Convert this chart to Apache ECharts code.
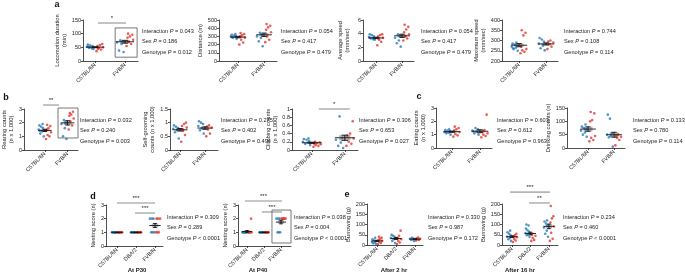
<!DOCTYPE html>
<html>
<head>
<meta charset="utf-8">
<script src="https://cdn.jsdelivr.net/npm/echarts@6/dist/echarts.min.js"></script>
<style>
  html, body { margin: 0; padding: 0; background: #fff; }
  #chart { width: 685px; height: 277px; }
</style>
</head>
<body>
<div id="chart"></div>
<script>
// categories
const strains2 = ['C57BL/6N', 'FVB/N']
const strains3 = ['C57BL/6N', 'DBA/2', 'FVB/N']

// a: locomotion (one inner array per strain)
const locoBlue = [[44, 48, 50, 52, 55, 57, 60, 46, 53], [33, 38, 62, 68, 72, 76]]
const locoRed = [[36, 42, 47, 50, 55, 58, 62, 45], [55, 62, 70, 78, 85, 90, 96, 100]]
const distBlue = [[270, 285, 295, 300, 305, 310, 320, 330, 290], [180, 240, 280, 300, 320, 345]]
const distRed = [[200, 225, 260, 285, 300, 315, 330, 340], [230, 260, 300, 350, 380, 410, 430, 450]]
const speedBlue = [[3.1, 3.3, 3.4, 3.5, 3.6, 3.8, 3.9, 3.2, 3.4], [2.1, 2.6, 3.0, 3.4, 3.7, 3.9]]
const speedRed = [[2.3, 2.8, 3.1, 3.4, 3.6, 3.8, 3.9, 3.3], [3.0, 3.3, 3.6, 3.9, 4.2, 4.6, 5.0, 5.3]]
const maxBlue = [[250, 258, 265, 270, 275, 280, 285, 290, 262], [252, 262, 275, 285, 295, 305, 312]]
const maxRed = [[238, 245, 252, 258, 270, 325, 338, 350], [258, 270, 282, 290, 295, 300]]

// b: rearing, grooming, climbing (n x 1,000)
const rearBlue = [[1.0, 1.2, 1.35, 1.5, 1.6, 1.7, 1.8, 1.9, 1.4], [0.8, 1.0, 1.6, 1.9, 2.0, 2.2]]
const rearRed = [[0.8, 1.0, 1.1, 1.3, 1.5, 1.6, 1.75, 1.85], [1.5, 1.8, 2.1, 2.3, 2.5, 2.6, 2.8, 2.7]]
const groomBlue = [[0.42, 0.65, 0.72, 0.78, 0.8, 0.85, 0.9, 0.75], [0.6, 0.72, 0.8, 0.88, 0.95, 1.0, 1.05]]
const groomRed = [[0.3, 0.55, 0.7, 0.82, 0.88, 0.95, 1.0, 0.76], [0.5, 0.6, 0.75, 0.82, 0.86, 0.9]]
const climbBlue = [[0.12, 0.15, 0.18, 0.2, 0.22, 0.25, 0.27, 0.28], [0.05, 0.1, 0.18, 0.25, 0.3, 0.82]]
const climbRed = [[0.08, 0.1, 0.12, 0.14, 0.15, 0.17, 0.19, 0.2], [0.1, 0.15, 0.2, 0.28, 0.35, 0.4, 0.7]]

// c: eating, drinking
const eatBlue = [[1.0, 1.1, 1.15, 1.2, 1.25, 1.3, 1.35, 1.4, 1.2], [1.0, 1.1, 1.2, 1.3, 1.4, 1.5, 1.25]]
const eatRed = [[0.85, 0.95, 1.05, 1.2, 1.3, 1.4, 1.5, 1.6], [0.8, 0.9, 1.0, 1.1, 1.2, 1.35, 2.5]]
const drinkBlue = [[42, 50, 58, 65, 70, 75, 80, 88], [5, 40, 45, 50, 55, 110, 125]]
const drinkRed = [[25, 30, 38, 45, 100, 105, 130, 135], [10, 30, 38, 42, 46, 50]]

// d: nesting score
const nest30Blue = [[1, 1, 1, 1, 1, 1, 1, 1], [1, 1, 1, 1, 1, 1, 1], [1, 1, 1, 2, 2, 2]]
const nest30Red = [[1, 1, 1, 1, 1, 1, 1, 1], [1, 1, 1, 1, 1, 1, 1], [1, 1, 1, 2, 2, 2]]
const nest40Blue = [[1, 1, 1, 1, 1, 1, 1, 1], [1, 1, 1, 1, 1, 1, 1], [1, 1, 1, 2, 2, 2]]
const nest40Red = [[1, 1, 1, 1, 1, 1, 2], [1, 1, 1, 1, 1, 1, 1], [2, 2, 2, 2, 2, 2]]

// e: burrowing (g)
const burrow2Blue = [[5, 8, 12, 15, 18, 22, 28, 35], [10, 20, 28, 35, 40, 45, 50], [20, 25, 28, 30, 32, 35]]
const burrow2Red = [[5, 10, 15, 20, 25, 30, 35, 40], [5, 12, 20, 28, 35, 45, 70], [22, 25, 28, 30, 33, 36]]
const burrow16Blue = [[20, 28, 35, 40, 48, 55, 62, 70], [40, 48, 52, 58, 65, 72, 80, 95, 100], [40, 55, 70, 85, 95, 105, 115, 120]]
const burrow16Red = [[15, 22, 30, 38, 42, 48, 55], [20, 25, 35, 45, 50], [20, 30, 60, 90, 110, 130, 140, 190]]

// two-way ANOVA p values: interaction, sex, genotype
const locoStats = ['= 0.043', '= 0.186', '= 0.012']
const distStats = ['= 0.054', '= 0.417', '= 0.479']
const speedStats = ['= 0.054', '= 0.417', '= 0.479']
const maxStats = ['= 0.744', '= 0.108', '= 0.114']
const rearStats = ['= 0.032', '= 0.240', '= 0.003']
const groomStats = ['= 0.275', '= 0.402', '= 0.494']
const climbStats = ['= 0.306', '= 0.653', '= 0.027']
const eatStats = ['= 0.603', '= 0.612', '= 0.963']
const drinkStats = ['= 0.133', '= 0.780', '= 0.114']
const nest30Stats = ['= 0.309', '= 0.289', '< 0.0001']
const nest40Stats = ['= 0.038', '= 0.004', '< 0.0001']
const burrow2Stats = ['= 0.330', '= 0.987', '= 0.172']
const burrow16Stats = ['= 0.234', '= 0.460', '< 0.0001']

const FONT = '"Liberation Sans", Arial, sans-serif'
const BLUE = '#2b7bbb'
const RED = '#e3362b'
const jit = [0.05, 0.2, 0.12, 0.27, 0.08, 0.16, 0.24, 0.1, 0.22]

// grid: [left, top, width, height]; x: value range so categories sit at 0,1,2
const panels = [
  { grid: [83, 20, 55, 41], x: [-0.4, 1.43], cats: strains2, y: [0, 150, 50], name: 'Locomotion duration\n(min)', gap: 14,
    blue: locoBlue, red: locoRed, stats: locoStats, sx: 142, sy: 31, sig: [[0.1, 1.03, 139, '*']], box: [0.67, 1.4, 14, 121] },
  { grid: [219, 20, 58, 41], x: [-0.73, 1.5], cats: strains2, y: [0, 500, 100], name: 'Distance (m)', gap: 13,
    blue: distBlue, red: distRed, stats: distStats, sx: 281, sy: 31 },
  { grid: [363, 20, 51, 41], x: [-0.5, 1.46], cats: strains2, y: [0, 6, 2], name: 'Average speed\n(mm/sec)', gap: 12,
    blue: speedBlue, red: speedRed, stats: speedStats, sx: 421, sy: 31 },
  { grid: [502, 20, 56, 41], x: [-0.63, 1.44], cats: strains2, y: [200, 400, 50], name: 'Maximum speed\n(mm/sec)', gap: 14,
    blue: maxBlue, red: maxRed, stats: maxStats, sx: 564, sy: 31 },
  { grid: [21, 109, 57, 41], x: [-0.92, 1.46], cats: strains2, y: [0, 3, 1], name: 'Rearing counts\n(n x 1,000)', gap: 8,
    blue: rearBlue, red: rearRed, stats: rearStats, sx: 80, sy: 120, sig: [[-0.08, 0.63, 3.29, '**']], box: [0.58, 1.46, 0.88, 3.07] },
  { grid: [170, 109, 48, 41], x: [-0.4, 1.52], cats: strains2, y: [0, 1.5, 0.5], name: 'Self-grooming\ncounts (n x 1,000)', gap: 14,
    blue: groomBlue, red: groomRed, stats: groomStats, sx: 221, sy: 120 },
  { grid: [292, 109, 66, 41], x: [-0.6, 1.4], cats: strains2, y: [0, 1, 0.2], name: 'Climbing counts\n(n x 1,000)', gap: 13,
    blue: climbBlue, red: climbRed, stats: climbStats, sx: 359, sy: 120, sig: [[0.21, 1.15, 1.0, '*']] },
  { grid: [436, 108, 56, 40], x: [-0.57, 1.43], cats: strains2, y: [0, 3, 1], name: 'Eating counts\n(n x 1,000)', gap: 8,
    blue: eatBlue, red: eatRed, stats: eatStats, sx: 497, sy: 120 },
  { grid: [567, 108, 58, 40], x: [-0.81, 1.42], cats: strains2, y: [0, 150, 50], name: 'Drinking counts (n)', gap: 13,
    blue: drinkBlue, red: drinkRed, stats: drinkStats, sx: 633, sy: 120 },
  { grid: [106, 205, 57, 41], x: [-0.58, 2.42], cats: strains3, y: [0, 3, 1], name: 'Nesting score (n)', gap: 7,
    blue: nest30Blue, red: nest30Red, stats: nest30Stats, sx: 167, sy: 217, title: 'At P30', tx: 137,
    sig: [[0, 2, 3.15, '***'], [0.95, 2, 2.41, '***']] },
  { grid: [238, 205, 53, 41], x: [-0.53, 2.59], cats: strains3, y: [0, 3, 1], name: 'Nesting score (n)', gap: 7,
    blue: nest40Blue, red: nest40Red, stats: nest40Stats, sx: 294, sy: 217, title: 'At P40', tx: 258,
    sig: [[-0.12, 2.06, 3.29, '***'], [0.88, 2.06, 2.49, '***']], box: [1.47, 2.59, 0.22, 2.63] },
  { grid: [367, 204, 56, 41], x: [-0.53, 2.42], cats: strains3, y: [0, 200, 50], name: 'Burrowing (g)', gap: 11,
    blue: burrow2Blue, red: burrow2Red, stats: burrow2Stats, sx: 428, sy: 217, title: 'After 2 hr', tx: 394 },
  { grid: [502, 204, 56, 41], x: [-0.54, 2.49], cats: strains3, y: [0, 200, 50], name: 'Burrowing (g)', gap: 11,
    blue: burrow16Blue, red: burrow16Red, stats: burrow16Stats, sx: 563, sy: 217, title: 'After 16 hr', tx: 520,
    sig: [[-0.1, 2.05, 258, '***'], [0.92, 2.05, 205, '**']] }
]

const panelLetters = [['a', 57, 5], ['b', 6, 98], ['c', 419, 97], ['d', 93, 197], ['e', 347, 195]]

function meanSem(vals) {
  const n = vals.length
  const m = vals.reduce((s, v) => s + v, 0) / n
  const sd = Math.sqrt(vals.reduce((s, v) => s + (v - m) * (v - m), 0) / (n - 1))
  return [m, sd / Math.sqrt(n)]
}

const grid = []
const xAxis = []
const yAxis = []
const series = []
const graphic = []
const axisColor = '#222'

panels.forEach((p, i) => {
  const idx = p.cats.map((c, k) => k)
  grid.push({ left: p.grid[0], top: p.grid[1], width: p.grid[2], height: p.grid[3] })
  xAxis.push({
    type: 'value', gridIndex: i, min: p.x[0], max: p.x[1],
    splitLine: { show: false },
    axisLine: { onZero: false, lineStyle: { color: axisColor, width: 0.8 } },
    axisTick: { customValues: idx, length: 2, lineStyle: { color: axisColor, width: 0.8 } },
    axisLabel: {
      customValues: idx, formatter: v => p.cats[Math.round(v)] || '',
      rotate: 45, fontSize: 5.5, margin: 3, color: axisColor, fontFamily: FONT
    }
  })
  yAxis.push({
    type: 'value', gridIndex: i, min: p.y[0], max: p.y[1], interval: p.y[2],
    name: p.name, nameLocation: 'middle', nameGap: p.gap,
    nameTextStyle: { fontSize: 5.8, lineHeight: 7, color: axisColor, fontFamily: FONT },
    splitLine: { show: false },
    axisLine: { show: true, onZero: false, lineStyle: { color: axisColor, width: 0.8 } },
    axisTick: { show: true, length: 2, lineStyle: { color: axisColor, width: 0.8 } },
    axisLabel: { fontSize: 5.5, margin: 2, color: axisColor, fontFamily: FONT }
  })

  const bluePts = []
  const redPts = []
  p.blue.forEach((vals, k) => vals.forEach((v, j) => bluePts.push([k - jit[j % jit.length], v])))
  p.red.forEach((vals, k) => vals.forEach((v, j) => redPts.push([k + jit[j % jit.length], v])))
  const stats = p.blue.map((b, k) => [k].concat(meanSem(b.concat(p.red[k]))))

  series.push({
    type: 'custom', xAxisIndex: i, yAxisIndex: i, data: stats, silent: true, z: 1,
    renderItem: (params, api) => {
      const x = api.value(0), m = api.value(1), s = api.value(2)
      const a = api.coord([x - 0.17, m + s]), b = api.coord([x + 0.17, m - s])
      return {
        type: 'rect',
        shape: { x: a[0], y: a[1], width: b[0] - a[0], height: Math.max(b[1] - a[1], 1.5) },
        style: { fill: 'rgba(120,120,120,0.55)' }
      }
    }
  })
  series.push({ type: 'scatter', xAxisIndex: i, yAxisIndex: i, data: bluePts, symbol: 'circle', symbolSize: 2.6, itemStyle: { color: BLUE }, silent: true, z: 2 })
  series.push({ type: 'scatter', xAxisIndex: i, yAxisIndex: i, data: redPts, symbol: 'circle', symbolSize: 2.6, itemStyle: { color: RED }, silent: true, z: 2 })
  series.push({
    type: 'custom', xAxisIndex: i, yAxisIndex: i, data: stats, silent: true, z: 3,
    renderItem: (params, api) => {
      const x = api.value(0), m = api.value(1), s = api.value(2)
      const l = api.coord([x - 0.3, m]), r = api.coord([x + 0.3, m])
      const t = api.coord([x, m + s]), b = api.coord([x, m - s])
      const cw = api.size([0.1, 0])[0]
      const st = { stroke: '#111', lineWidth: 0.9 }
      return {
        type: 'group', children: [
          { type: 'line', shape: { x1: l[0], y1: l[1], x2: r[0], y2: r[1] }, style: st },
          { type: 'line', shape: { x1: t[0], y1: t[1], x2: b[0], y2: b[1] }, style: st },
          { type: 'line', shape: { x1: t[0] - cw, y1: t[1], x2: t[0] + cw, y2: t[1] }, style: st },
          { type: 'line', shape: { x1: b[0] - cw, y1: b[1], x2: b[0] + cw, y2: b[1] }, style: st }
        ]
      }
    }
  })
  if (p.sig) {
    series.push({
      type: 'custom', xAxisIndex: i, yAxisIndex: i, data: p.sig, silent: true, z: 4,
      renderItem: (params, api) => {
        const a = api.coord([api.value(0), api.value(2)]), b = api.coord([api.value(1), api.value(2)])
        return {
          type: 'group', children: [
            { type: 'line', shape: { x1: a[0], y1: a[1], x2: b[0], y2: b[1] }, style: { stroke: '#b4b4b4', lineWidth: 1.6 } },
            { type: 'text', x: (a[0] + b[0]) / 2, y: a[1] - 1.5,
              style: { text: p.sig[params.dataIndex][3], fontSize: 6, fontFamily: FONT, fill: '#222', align: 'center', verticalAlign: 'bottom' } }
          ]
        }
      }
    })
  }
  if (p.box) {
    series.push({
      type: 'custom', xAxisIndex: i, yAxisIndex: i, data: [p.box], silent: true, z: 4,
      renderItem: (params, api) => {
        const a = api.coord([api.value(0), api.value(3)]), b = api.coord([api.value(1), api.value(2)])
        return { type: 'rect', shape: { x: a[0], y: a[1], width: b[0] - a[0], height: b[1] - a[1] }, style: { fill: 'none', stroke: '#555', lineWidth: 0.8 } }
      }
    })
  }

  const labels = ['Interaction', 'Sex', 'Genotype']
  labels.forEach((lab, k) => {
    graphic.push({
      type: 'text', x: p.sx, y: p.sy + k * 10.5, silent: true,
      style: {
        text: lab + ' {p|P} ' + p.stats[k], fontSize: 5.6, fontFamily: FONT, fill: '#222', verticalAlign: 'middle',
        rich: { p: { fontSize: 5.6, fontFamily: FONT, fontStyle: 'italic', fill: '#222' } }
      }
    })
  })
  if (p.title) {
    graphic.push({ type: 'text', x: p.tx, y: 270, silent: true,
      style: { text: p.title, fontSize: 6, fontWeight: 'bold', fontFamily: FONT, fill: '#222', align: 'center', verticalAlign: 'middle' } })
  }
})

panelLetters.forEach(([t, x, y]) => {
  graphic.push({ type: 'text', x: x, y: y, silent: true,
    style: { text: t, fontSize: 9, fontWeight: 'bold', fontFamily: FONT, fill: '#111', align: 'center', verticalAlign: 'middle' } })
})

const chart = echarts.init(document.getElementById('chart'), null, { renderer: 'canvas' })
chart.setOption({
  backgroundColor: '#fff',
  animation: false,
  textStyle: { fontFamily: FONT },
  grid: grid,
  xAxis: xAxis,
  yAxis: yAxis,
  series: series,
  graphic: graphic
})
</script>
</body>
</html>
